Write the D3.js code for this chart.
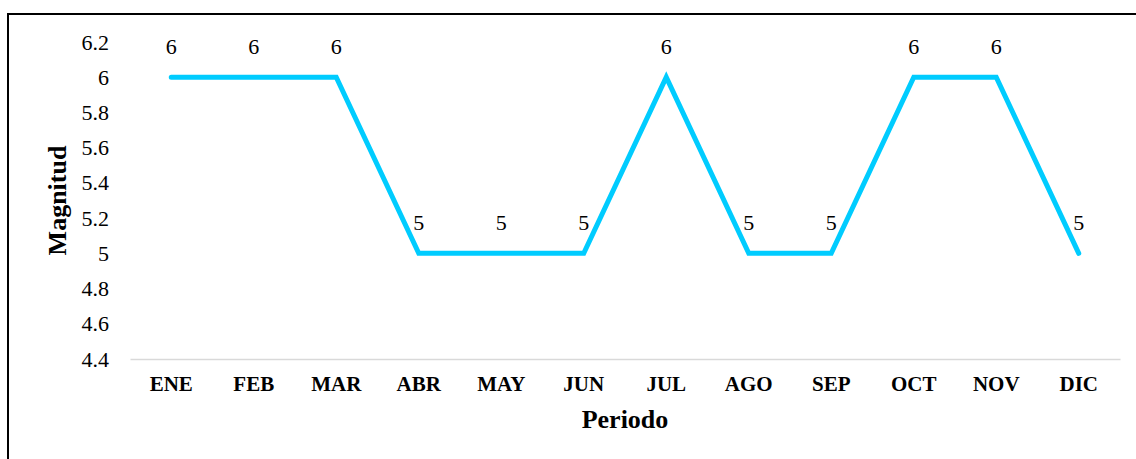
<!DOCTYPE html>
<html>
<head>
<meta charset="utf-8">
<script src="https://cdn.jsdelivr.net/npm/d3@7"></script>
<style>
    body { margin: 0; background: #fff; }
    svg { display: block; font-family: 'Liberation Serif', 'Times New Roman', serif; }
</style>
</head>
<body>
<div id="chart"></div>
<script>
const months = ['ENE', 'FEB', 'MAR', 'ABR', 'MAY', 'JUN', 'JUL', 'AGO', 'SEP', 'OCT', 'NOV', 'DIC'];
const magnitud = [6, 6, 6, 5, 5, 5, 6, 5, 5, 6, 6, 5];
const yTicks = [4.4, 4.6, 4.8, 5, 5.2, 5.4, 5.6, 5.8, 6, 6.2];

const width = 1136;
const height = 459;
const marginTop = 42;
const marginRight = 16;
const marginBottom = 100;
const marginLeft = 130;

const x = d3.scaleBand()
    .domain(months)
    .range([marginLeft, width - marginRight]);

const y = d3.scaleLinear()
    .domain([4.4, 6.2])
    .range([height - marginBottom, marginTop]);

const svg = d3.create('svg')
    .attr('width', width)
    .attr('height', height)
    .attr('viewBox', [0, 0, width, height]);

// outer frame (only top and left visible in the picture)
svg.append('path')
    .attr('d', `M8,${height}V14H${width}`)
    .attr('fill', 'none')
    .attr('stroke', '#000')
    .attr('stroke-width', 2);

// x axis baseline and labels
svg.append('g')
    .attr('transform', `translate(0,${y(4.4)})`)
    .call(d3.axisBottom(x).tickSize(0).tickPadding(17))
    .call(g => g.select('.domain').attr('stroke', '#d9d9d9').attr('stroke-width', 1.5))
    .call(g => g.selectAll('text')
        .attr('fill', '#000')
        .style('font-family', 'Liberation Serif')
        .style('font-size', '21px')
        .style('font-weight', 'bold'));

// y axis labels
svg.append('g')
    .attr('transform', `translate(${marginLeft - 21},0)`)
    .call(d3.axisLeft(y).tickValues(yTicks).tickSize(0).tickPadding(0)
        .tickFormat(d => d3.format('~g')(d)))
    .call(g => g.select('.domain').remove())
    .call(g => g.selectAll('text')
        .attr('fill', '#000')
        .style('font-family', 'Liberation Serif')
        .style('font-size', '22px'));

const line = d3.line()
    .x((d, i) => x(months[i]) + x.bandwidth() / 2)
    .y(d => y(d));

svg.append('path')
    .datum(magnitud)
    .attr('d', line)
    .attr('fill', 'none')
    .attr('stroke', '#00ccff')
    .attr('stroke-width', 5)
    .attr('stroke-linecap', 'round')
    .attr('stroke-linejoin', 'miter');

// data labels
svg.append('g')
    .selectAll('text')
    .data(magnitud)
    .join('text')
    .attr('x', (d, i) => x(months[i]) + x.bandwidth() / 2)
    .attr('y', d => y(d) - 23)
    .attr('text-anchor', 'middle')
    .style('font-family', 'Liberation Serif')
    .style('font-size', '22px')
    .attr('fill', '#000')
    .text(d => d);

// axis titles
svg.append('text')
    .attr('transform', `translate(66,${(y(4.4) + y(6.2)) / 2}) rotate(-90)`)
    .attr('text-anchor', 'middle')
    .style('font-size', '26px')
    .style('font-weight', 'bold')
    .text('Magnitud');

svg.append('text')
    .attr('x', (marginLeft + width - marginRight) / 2)
    .attr('y', 428)
    .attr('text-anchor', 'middle')
    .style('font-size', '26px')
    .style('font-weight', 'bold')
    .text('Periodo');

document.getElementById('chart').append(svg.node());
</script>
</body>
</html>
